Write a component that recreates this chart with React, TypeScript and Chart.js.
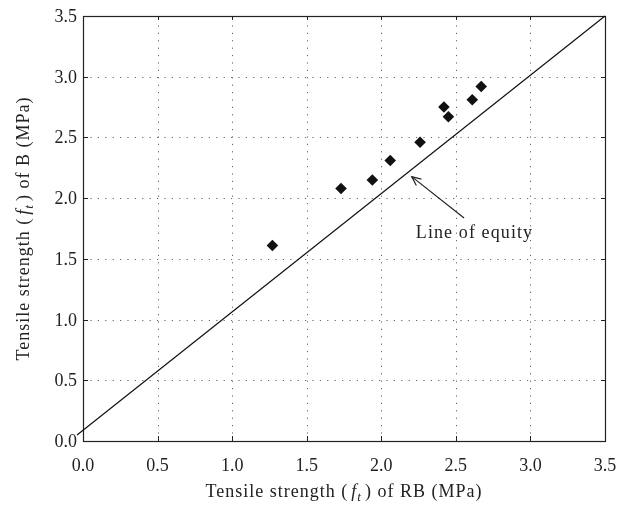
import React, { useEffect, useRef } from "react";
import { Chart, registerables } from "chart.js";

Chart.register(...registerables);

const rbValues = [1.27, 1.73, 1.94, 2.06, 2.26, 2.42, 2.45, 2.61, 2.67];
const bValues = [1.61, 2.08, 2.15, 2.31, 2.46, 2.75, 2.67, 2.81, 2.92];
const equityLineX = [-0.04, 3.5];
const equityLineY = [0.05, 3.5];
const tickValues = [0, 0.5, 1.0, 1.5, 2.0, 2.5, 3.0, 3.5];
const tickLabels = ["0.0", "0.5", "1.0", "1.5", "2.0", "2.5", "3.0", "3.5"];
const annotationText = "Line of equity";
const arrowTip = [2.204, 2.177];
const arrowTail = [2.555, 1.836];
const annotationPos = [2.625, 1.672];

const SERIF = "'Liberation Serif', 'DejaVu Serif', serif";
const TEXT = "#222";

function setSpacing(ctx: any, s: string) {
  try { ctx.letterSpacing = s; } catch (e) {}
}

function drawTitle(ctx: CanvasRenderingContext2D, x: number, y: number, prefix: string, suffix: string) {
  const size = 18;
  const normal = `${size}px ${SERIF}`;
  const ital = `italic ${size}px ${SERIF}`;
  const sub = `italic ${Math.round(size * 0.72)}px ${SERIF}`;
  // [text, font, dy, gapAfter]
  const parts: [string, string, number, number][] = [
    [prefix + "(", normal, 0, 3],
    ["f", ital, 0, 0],
    ["t", sub, 4, 3],
    [")" + suffix, normal, 0, 0],
  ];
  setSpacing(ctx, "1px");
  let total = 0;
  for (const [t, f, , g] of parts) {
    ctx.font = f;
    total += ctx.measureText(t).width + g;
  }
  let cx = x - total / 2;
  ctx.textBaseline = "alphabetic";
  ctx.textAlign = "left";
  for (const [t, f, dy, g] of parts) {
    ctx.font = f;
    ctx.fillText(t, cx, y + dy);
    cx += ctx.measureText(t).width + g;
  }
  setSpacing(ctx, "0px");
}

const framePlugin = {
  id: "frame",
  beforeDatasetsDraw(chart: any) {
    const { ctx, chartArea: a, scales } = chart;
    const xs = scales.x;
    const ys = scales.y;
    ctx.save();
    ctx.strokeStyle = "#666";
    ctx.lineWidth = 1;
    ctx.setLineDash([1.2, 6.2]);
    for (const v of tickValues) {
      if (v <= 0 || v >= 3.5) continue;
      const px = Math.round(xs.getPixelForValue(v)) + 0.5;
      ctx.beginPath();
      ctx.moveTo(px, a.bottom);
      ctx.lineTo(px, a.top);
      ctx.stroke();
      const py = Math.round(ys.getPixelForValue(v)) + 0.5;
      ctx.beginPath();
      ctx.moveTo(a.left, py);
      ctx.lineTo(a.right, py);
      ctx.stroke();
    }
    ctx.setLineDash([]);
    ctx.strokeStyle = "#222";
    ctx.lineWidth = 1;
    for (const v of tickValues) {
      const px = Math.round(xs.getPixelForValue(v)) + 0.5;
      ctx.beginPath();
      ctx.moveTo(px, a.bottom);
      ctx.lineTo(px, a.bottom - 5);
      ctx.moveTo(px, a.top);
      ctx.lineTo(px, a.top + 4);
      ctx.stroke();
      const py = Math.round(ys.getPixelForValue(v)) + 0.5;
      ctx.beginPath();
      ctx.moveTo(a.left, py);
      ctx.lineTo(a.left + 5, py);
      ctx.moveTo(a.right, py);
      ctx.lineTo(a.right - 4, py);
      ctx.stroke();
    }
    ctx.lineWidth = 1.2;
    ctx.strokeRect(Math.round(a.left) + 0.5, Math.round(a.top) + 0.5, Math.round(a.right - a.left), Math.round(a.bottom - a.top));

    // tick labels
    ctx.fillStyle = TEXT;
    ctx.font = `18px ${SERIF}`;
    ctx.textAlign = "center";
    ctx.textBaseline = "alphabetic";
    tickValues.forEach((v, i) => {
      ctx.fillText(tickLabels[i], xs.getPixelForValue(v), a.bottom + 30);
    });
    ctx.textAlign = "right";
    tickValues.forEach((v, i) => {
      ctx.fillText(tickLabels[i], a.left - 6, ys.getPixelForValue(v) + 6);
    });
    ctx.restore();
  },
  afterDraw(chart: any) {
    const { ctx, chartArea: a, scales } = chart;
    const xs = scales.x;
    const ys = scales.y;
    ctx.save();
    ctx.fillStyle = TEXT;
    drawTitle(ctx, (a.left + a.right) / 2, 497, "Tensile strength ", " of RB (MPa)");
    ctx.save();
    ctx.translate(29, (a.top + a.bottom) / 2);
    ctx.rotate(-Math.PI / 2);
    drawTitle(ctx, 0, 0, "Tensile strength ", " of B (MPa)");
    ctx.restore();

    // annotation arrow
    const tx = xs.getPixelForValue(arrowTip[0]);
    const ty = ys.getPixelForValue(arrowTip[1]);
    const sx = xs.getPixelForValue(arrowTail[0]);
    const sy = ys.getPixelForValue(arrowTail[1]);
    ctx.strokeStyle = "#222";
    ctx.lineWidth = 1.2;
    ctx.beginPath();
    ctx.moveTo(sx, sy);
    ctx.lineTo(tx, ty);
    ctx.stroke();
    const ang = Math.atan2(ty - sy, tx - sx);
    const hl = 10;
    const spread = 0.42;
    ctx.beginPath();
    ctx.moveTo(tx - hl * Math.cos(ang - spread), ty - hl * Math.sin(ang - spread));
    ctx.lineTo(tx, ty);
    ctx.lineTo(tx - hl * Math.cos(ang + spread), ty - hl * Math.sin(ang + spread));
    ctx.stroke();

    ctx.font = `18px ${SERIF}`;
    setSpacing(ctx, "1.1px");
    ctx.textAlign = "center";
    ctx.textBaseline = "alphabetic";
    ctx.fillText(annotationText, xs.getPixelForValue(annotationPos[0]), ys.getPixelForValue(annotationPos[1]));
    setSpacing(ctx, "0px");
    ctx.restore();
  },
};

export default function App() {
  const ref = useRef<HTMLCanvasElement>(null);
  useEffect(() => {
    if (!ref.current) return;
    const chart = new Chart(ref.current, {
      type: "scatter",
      data: {
        datasets: [
          {
            label: "Data",
            data: rbValues.map((x, i) => ({ x, y: bValues[i] })),
            pointStyle: "rectRot",
            pointRadius: 5.8,
            backgroundColor: "#111",
            borderColor: "#111",
            borderWidth: 0,
          },
          {
            label: "Line of equity",
            type: "line",
            data: equityLineX.map((x, i) => ({ x, y: equityLineY[i] })),
            borderColor: "#111",
            borderWidth: 1.2,
            pointRadius: 0,
            clip: false as any,
          },
        ],
      },
      options: {
        animation: false,
        responsive: false,
        layout: { padding: { top: 16, right: 23, left: 0, bottom: 0 } },
        plugins: { legend: { display: false }, tooltip: { enabled: false } },
        scales: {
          x: {
            type: "linear",
            min: 0,
            max: 3.5,
            afterFit: (s: any) => { s.height = 65; },
            grid: { display: false, drawTicks: false },
            border: { display: false },
            ticks: { display: false },
          },
          y: {
            type: "linear",
            min: 0,
            max: 3.5,
            afterFit: (s: any) => { s.width = 83; },
            grid: { display: false, drawTicks: false },
            border: { display: false },
            ticks: { display: false },
          },
        },
      },
      plugins: [framePlugin],
    });
    return () => chart.destroy();
  }, []);
  return (
    <canvas
      ref={ref}
      width={628}
      height={506}
      style={{ position: "fixed", left: 0, top: 0, display: "block" }}
    />
  );
}
